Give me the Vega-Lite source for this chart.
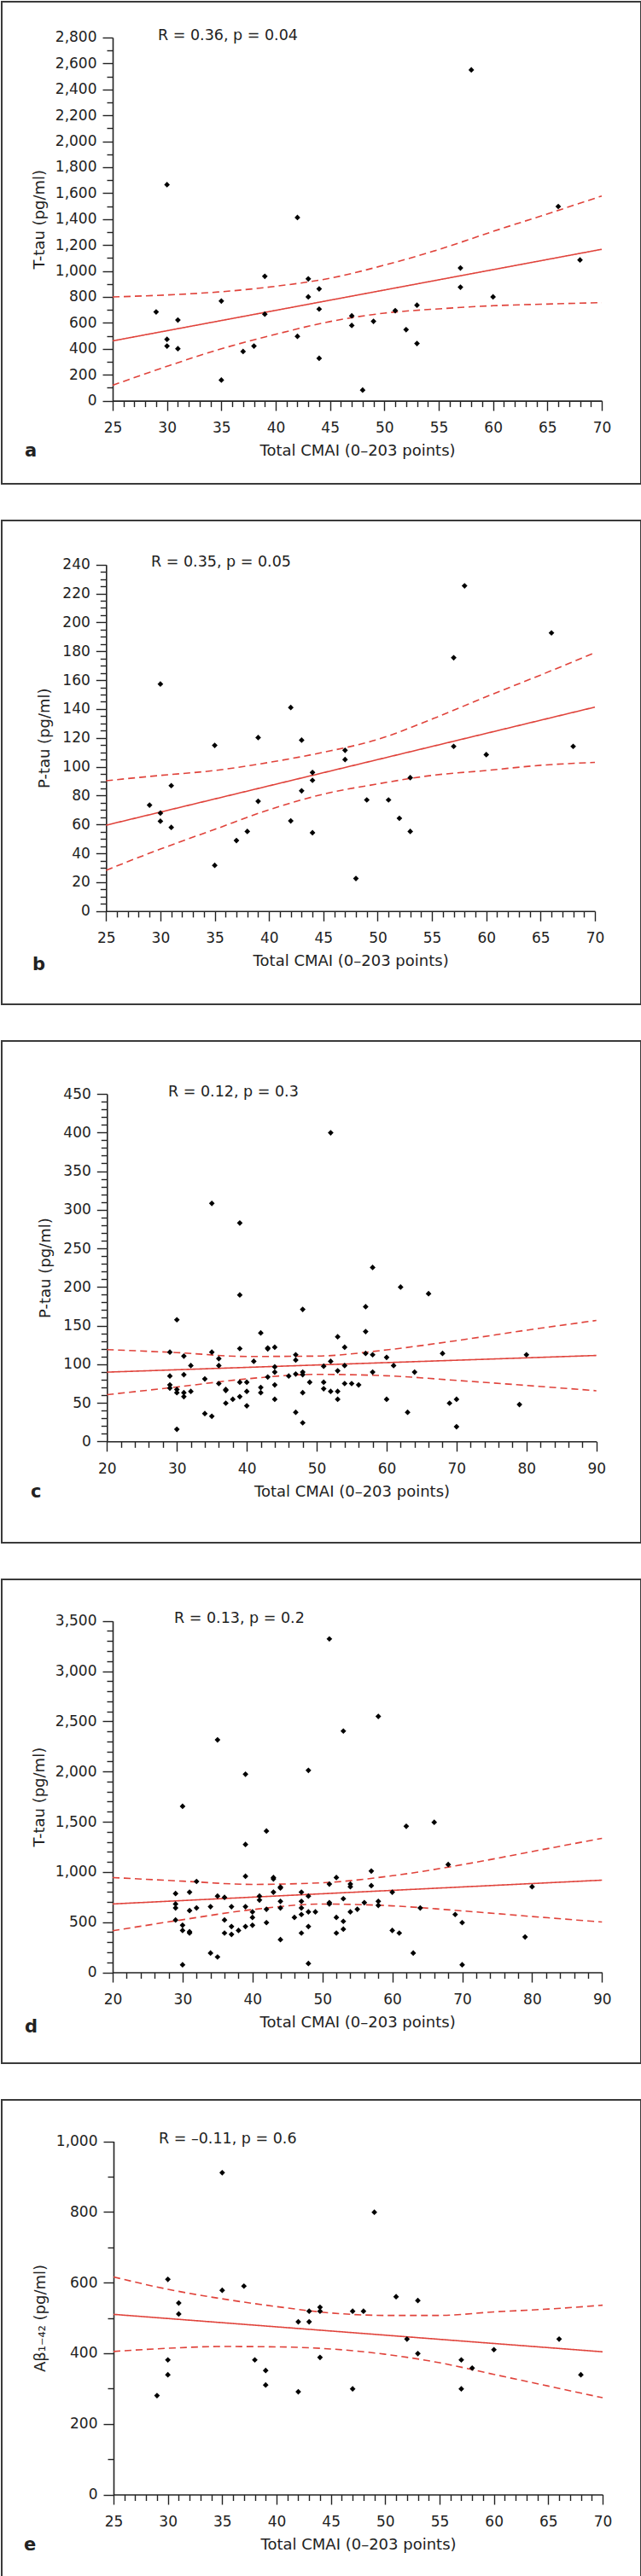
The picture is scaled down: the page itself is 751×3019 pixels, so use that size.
{
  "$schema": "https://vega.github.io/schema/vega-lite/v6.json",
  "padding": {"left": 1, "top": 1, "right": 0, "bottom": 0},
  "spacing": 41,
  "config": {
    "font": "DejaVu Sans",
    "view": {"stroke": "#3a3a3a", "strokeWidth": 2},
    "axis": {"grid": false, "domainColor": "#222", "domainWidth": 1.6, "tickColor": "#222", "tickWidth": 1.4, "labelFont": "DejaVu Sans", "labelFontSize": 17, "labelColor": "#222", "titleFont": "DejaVu Sans", "titleFontSize": 18, "titleFontWeight": "normal", "titleColor": "#222", "labelOverlap": false, "labelFlush": false, "labelBound": false},
    "axisX": {"labelPadding": 12.5, "titlePadding": 10},
    "axisY": {"labelPadding": 7},
    "title": {"font": "DejaVu Sans", "color": "#222", "fontWeight": "normal", "fontSize": 17.5, "anchor": "start", "baseline": "alphabetic"}
  },
  "datasets": {
    "a_pts": [{"x":29,"y":684},{"x":30,"y":1665},{"x":30,"y":473},{"x":30,"y":421},{"x":31,"y":622},{"x":31,"y":401},{"x":35,"y":768},{"x":35,"y":159},{"x":37,"y":379},{"x":38,"y":421},{"x":39,"y":959},{"x":39,"y":667},{"x":42,"y":1412},{"x":42,"y":496},{"x":43,"y":939},{"x":43,"y":800},{"x":44,"y":862},{"x":44,"y":706},{"x":44,"y":327},{"x":47,"y":654},{"x":47,"y":580},{"x":48,"y":82},{"x":49,"y":612},{"x":51,"y":694},{"x":52,"y":548},{"x":53,"y":736},{"x":53,"y":441},{"x":57,"y":1023},{"x":57,"y":875},{"x":58,"y":2550},{"x":60,"y":800},{"x":66,"y":1497},{"x":68,"y":1085}],
    "a_lines": [{"line":"fit","x":25,"y":461},{"line":"fit","x":70,"y":1167},
      {"line":"upper","x":25,"y":800},{"line":"upper","x":30,"y":815},{"line":"upper","x":35,"y":840},{"line":"upper","x":40,"y":882},{"line":"upper","x":45,"y":944},{"line":"upper","x":50,"y":1045},{"line":"upper","x":55,"y":1165},{"line":"upper","x":60,"y":1305},{"line":"upper","x":65,"y":1440},{"line":"upper","x":70,"y":1578},
      {"line":"lower","x":25,"y":119},{"line":"lower","x":30,"y":265},{"line":"lower","x":35,"y":400},{"line":"lower","x":40,"y":512},{"line":"lower","x":45,"y":610},{"line":"lower","x":50,"y":675},{"line":"lower","x":55,"y":708},{"line":"lower","x":60,"y":732},{"line":"lower","x":65,"y":745},{"line":"lower","x":70,"y":756}],
    "b_pts": [{"x":29,"y":73.4},{"x":30,"y":157.3},{"x":30,"y":67.9},{"x":30,"y":62.3},{"x":31,"y":86.9},{"x":31,"y":58},{"x":35,"y":114.8},{"x":35,"y":31.7},{"x":37,"y":48.9},{"x":38,"y":55.2},{"x":39,"y":120.2},{"x":39,"y":76.1},{"x":42,"y":141},{"x":42,"y":62.5},{"x":43,"y":118.4},{"x":43,"y":83.3},{"x":44,"y":96},{"x":44,"y":90.6},{"x":44,"y":54.3},{"x":47,"y":111.4},{"x":47,"y":105},{"x":48,"y":22.6},{"x":49,"y":77},{"x":51,"y":77},{"x":52,"y":64.3},{"x":53,"y":92.4},{"x":53,"y":55.2},{"x":57,"y":175.5},{"x":57,"y":114.1},{"x":58,"y":225.3},{"x":60,"y":108.4},{"x":66,"y":192.7},{"x":68,"y":114.1}],
    "b_lines": [{"line":"fit","x":25,"y":59.5},{"line":"fit","x":70,"y":141.3},
      {"line":"upper","x":25,"y":90.3},{"line":"upper","x":30,"y":94},{"line":"upper","x":35,"y":97.4},{"line":"upper","x":40,"y":103},{"line":"upper","x":45,"y":110},{"line":"upper","x":50,"y":118.9},{"line":"upper","x":55,"y":133},{"line":"upper","x":60,"y":148.5},{"line":"upper","x":65,"y":163.5},{"line":"upper","x":70,"y":179},
      {"line":"lower","x":25,"y":28.3},{"line":"lower","x":30,"y":43},{"line":"lower","x":35,"y":56.6},{"line":"lower","x":40,"y":70.2},{"line":"lower","x":45,"y":81},{"line":"lower","x":50,"y":88.1},{"line":"lower","x":55,"y":94},{"line":"lower","x":60,"y":97.4},{"line":"lower","x":65,"y":101},{"line":"lower","x":70,"y":103}],
    "c_pts": [{"x":29,"y":115.6},{"x":29,"y":84.7},{"x":29,"y":73.2},{"x":29,"y":69},{"x":30,"y":157.5},{"x":30,"y":67.3},{"x":30,"y":63.1},{"x":30,"y":15.7},{"x":31,"y":110.5},{"x":31,"y":86.4},{"x":31,"y":63.1},{"x":31,"y":58},{"x":32,"y":98.2},{"x":32,"y":64.8},{"x":34,"y":80.9},{"x":34,"y":36},{"x":35,"y":308.2},{"x":35,"y":115.6},{"x":35,"y":32.6},{"x":36,"y":107.1},{"x":36,"y":98.2},{"x":36,"y":74.9},{"x":37,"y":67.3},{"x":37,"y":66},{"x":37,"y":49.5},{"x":38,"y":54.6},{"x":39,"y":282.8},{"x":39,"y":189.6},{"x":39,"y":120.2},{"x":39,"y":76.6},{"x":39,"y":58},{"x":40,"y":76.6},{"x":40,"y":64.8},{"x":40,"y":46.1},{"x":41,"y":103.7},{"x":42,"y":140.5},{"x":42,"y":69.8},{"x":42,"y":63.1},{"x":43,"y":119.8},{"x":43,"y":121},{"x":43,"y":83.4},{"x":44,"y":121.9},{"x":44,"y":96.5},{"x":44,"y":89.7},{"x":44,"y":73.2},{"x":44,"y":54.6},{"x":46,"y":84.7},{"x":47,"y":112.2},{"x":47,"y":105.4},{"x":47,"y":87.2},{"x":47,"y":37.7},{"x":48,"y":171},{"x":48,"y":89.7},{"x":48,"y":86.4},{"x":48,"y":63.1},{"x":48,"y":24.1},{"x":49,"y":76.6},{"x":51,"y":97.4},{"x":51,"y":76.6},{"x":51,"y":68.2},{"x":52,"y":399.6},{"x":52,"y":103.7},{"x":52,"y":64.8},{"x":53,"y":135.5},{"x":53,"y":91.4},{"x":53,"y":64.8},{"x":53,"y":54.6},{"x":54,"y":121.9},{"x":54,"y":98.2},{"x":54,"y":74.9},{"x":55,"y":74.9},{"x":56,"y":73.2},{"x":57,"y":174.4},{"x":57,"y":142.2},{"x":57,"y":113.9},{"x":58,"y":225.2},{"x":58,"y":112.2},{"x":58,"y":89.7},{"x":60,"y":108.8},{"x":60,"y":54.6},{"x":61,"y":98.2},{"x":62,"y":199.8},{"x":63,"y":37.7},{"x":64,"y":89.7},{"x":66,"y":191.3},{"x":68,"y":113.9},{"x":69,"y":49.5},{"x":70,"y":54.6},{"x":70,"y":19},{"x":79,"y":47.8},{"x":80,"y":112.2}],
    "c_lines": [{"line":"fit","x":20,"y":89.7},{"line":"fit","x":90,"y":111.3},
      {"line":"upper","x":20,"y":118.9},{"line":"upper","x":30,"y":115},{"line":"upper","x":40,"y":110},{"line":"upper","x":50,"y":110.5},{"line":"upper","x":60,"y":118.5},{"line":"upper","x":70,"y":130.5},{"line":"upper","x":80,"y":144},{"line":"upper","x":90,"y":156.6},
      {"line":"lower","x":20,"y":60.5},{"line":"lower","x":30,"y":70.5},{"line":"lower","x":40,"y":81},{"line":"lower","x":50,"y":86.8},{"line":"lower","x":60,"y":85},{"line":"lower","x":70,"y":79},{"line":"lower","x":80,"y":72.5},{"line":"lower","x":90,"y":65.6}],
    "d_pts": [{"x":29,"y":785},{"x":29,"y":681},{"x":29,"y":641},{"x":29,"y":521},{"x":30,"y":1654},{"x":30,"y":469},{"x":30,"y":417},{"x":30,"y":75},{"x":31,"y":798},{"x":31,"y":615},{"x":31,"y":404},{"x":31,"y":391},{"x":32,"y":905},{"x":32,"y":641},{"x":34,"y":654},{"x":34,"y":192},{"x":35,"y":2315},{"x":35,"y":759},{"x":35,"y":153},{"x":36,"y":746},{"x":36,"y":521},{"x":36,"y":391},{"x":37,"y":654},{"x":37,"y":456},{"x":37,"y":378},{"x":38,"y":417},{"x":39,"y":1973},{"x":39,"y":1273},{"x":39,"y":957},{"x":39,"y":654},{"x":39,"y":456},{"x":40,"y":602},{"x":40,"y":547},{"x":40,"y":469},{"x":41,"y":759},{"x":41,"y":720},{"x":42,"y":1407},{"x":42,"y":628},{"x":42,"y":495},{"x":43,"y":944},{"x":43,"y":930},{"x":43,"y":798},{"x":44,"y":850},{"x":44,"y":840},{"x":44,"y":707},{"x":44,"y":641},{"x":44,"y":326},{"x":46,"y":547},{"x":47,"y":798},{"x":47,"y":707},{"x":47,"y":641},{"x":47,"y":576},{"x":47,"y":391},{"x":48,"y":2012},{"x":48,"y":759},{"x":48,"y":602},{"x":48,"y":456},{"x":48,"y":88},{"x":49,"y":602},{"x":51,"y":3321},{"x":51,"y":879},{"x":51,"y":694},{"x":51,"y":681},{"x":52,"y":944},{"x":52,"y":547},{"x":52,"y":391},{"x":53,"y":2403},{"x":53,"y":733},{"x":53,"y":508},{"x":53,"y":430},{"x":54,"y":879},{"x":54,"y":853},{"x":54,"y":602},{"x":55,"y":628},{"x":56,"y":694},{"x":57,"y":1009},{"x":57,"y":863},{"x":58,"y":2549},{"x":58,"y":707},{"x":58,"y":667},{"x":60,"y":798},{"x":60,"y":417},{"x":61,"y":391},{"x":62,"y":1455},{"x":63,"y":192},{"x":64,"y":641},{"x":66,"y":1494},{"x":68,"y":1074},{"x":69,"y":576},{"x":70,"y":495},{"x":70,"y":75},{"x":79,"y":352},{"x":80,"y":853}],
    "d_lines": [{"line":"fit","x":20,"y":681},{"line":"fit","x":90,"y":918},
      {"line":"upper","x":20,"y":944},{"line":"upper","x":30,"y":908},{"line":"upper","x":40,"y":876},{"line":"upper","x":50,"y":892},{"line":"upper","x":60,"y":962},{"line":"upper","x":70,"y":1072},{"line":"upper","x":80,"y":1203},{"line":"upper","x":90,"y":1335},
      {"line":"lower","x":20,"y":414},{"line":"lower","x":30,"y":524},{"line":"lower","x":40,"y":625},{"line":"lower","x":50,"y":680},{"line":"lower","x":60,"y":662},{"line":"lower","x":70,"y":612},{"line":"lower","x":80,"y":556},{"line":"lower","x":90,"y":501}],
    "e_pts": [{"x":29,"y":280},{"x":30,"y":609},{"x":30,"y":381},{"x":30,"y":339},{"x":31,"y":542},{"x":31,"y":511},{"x":35,"y":911},{"x":35,"y":578},{"x":37,"y":590},{"x":38,"y":381},{"x":39,"y":351},{"x":39,"y":310},{"x":42,"y":489},{"x":42,"y":291},{"x":43,"y":519},{"x":43,"y":489},{"x":44,"y":530},{"x":44,"y":519},{"x":44,"y":388},{"x":47,"y":519},{"x":47,"y":299},{"x":48,"y":519},{"x":49,"y":799},{"x":51,"y":560},{"x":52,"y":440},{"x":53,"y":549},{"x":53,"y":399},{"x":57,"y":381},{"x":57,"y":299},{"x":58,"y":358},{"x":60,"y":410},{"x":66,"y":440},{"x":68,"y":339}],
    "e_lines": [{"line":"fit","x":25,"y":510},{"line":"fit","x":70,"y":404},
      {"line":"upper","x":25,"y":616},{"line":"upper","x":30,"y":581},{"line":"upper","x":35,"y":554},{"line":"upper","x":40,"y":532},{"line":"upper","x":45,"y":514},{"line":"upper","x":50,"y":507},{"line":"upper","x":55,"y":507},{"line":"upper","x":60,"y":517},{"line":"upper","x":65,"y":525},{"line":"upper","x":70,"y":536},
      {"line":"lower","x":25,"y":405},{"line":"lower","x":30,"y":414},{"line":"lower","x":35,"y":419},{"line":"lower","x":40,"y":418},{"line":"lower","x":45,"y":412},{"line":"lower","x":50,"y":397},{"line":"lower","x":55,"y":373},{"line":"lower","x":60,"y":340},{"line":"lower","x":65,"y":307},{"line":"lower","x":70,"y":274}]
  },
  "vconcat": [
    {
      "title": {"text": "a", "orient": "bottom", "anchor": "start", "dx": 28, "offset": -33, "fontWeight": "bold", "fontSize": 21, "baseline": "alphabetic"},
      "vconcat": [{
        "width": 749, "height": 565,
        "title": {"text": "R = 0.36, p = 0.04", "anchor": "start", "dx": 183, "offset": -48},
        "encoding": {
          "x": {"field": "x", "type": "quantitative", "scale": {"domain": [25, 70], "range": [130, 703], "nice": false, "zero": false},
            "axis": {"title": "Total CMAI (0–203 points)", "orient": "bottom", "offset": -97.4, "values": [25,26,27,28,29,30,31,32,33,34,35,36,37,38,39,40,41,42,43,44,45,46,47,48,49,50,51,52,53,54,55,56,57,58,59,60,61,62,63,64,65,66,67,68,69,70], "labelExpr": "datum.value % 5 === 0 ? datum.label : ''", "tickSize": {"condition": {"test": "datum.value % 5 === 0", "value": 11.5}, "value": 7}}},
          "y": {"field": "y", "type": "quantitative", "scale": {"domain": [0, 2800], "range": [467.6, 41.9], "nice": false, "zero": false},
            "axis": {"title": "T-tau (pg/ml)", "orient": "left", "offset": -130, "titlePadding": 9, "format": ",d", "values": [0,100,200,300,400,500,600,700,800,900,1000,1100,1200,1300,1400,1500,1600,1700,1800,1900,2000,2100,2200,2300,2400,2500,2600,2700,2800], "labelExpr": "datum.value % 200 === 0 ? datum.label : ''", "tickSize": {"condition": {"test": "datum.value % 200 === 0", "value": 12}, "value": 7}}}
        },
        "layer": [
          {"data": {"name": "a_lines"}, "mark": {"type": "line", "color": "#e0433b", "strokeWidth": 1.6, "interpolate": "monotone"},
           "encoding": {"detail": {"field": "line", "type": "nominal"}, "strokeDash": {"field": "line", "type": "nominal", "scale": {"domain": ["fit", "lower", "upper"], "range": [[1, 0], [8, 5], [8, 5]]}, "legend": null}}},
          {"data": {"name": "a_pts"}, "mark": {"type": "point", "shape": "diamond", "filled": true, "color": "#000", "size": 45, "opacity": 1}}
        ]
      }]
    },
    {
      "title": {"text": "b", "orient": "bottom", "anchor": "start", "dx": 37, "offset": -40.7, "fontWeight": "bold", "fontSize": 21, "baseline": "alphabetic"},
      "vconcat": [{
        "width": 749, "height": 567,
        "title": {"text": "R = 0.35, p = 0.05", "anchor": "start", "dx": 175, "offset": -57.9},
        "encoding": {
          "x": {"field": "x", "type": "quantitative", "scale": {"domain": [25, 70], "range": [122.3, 695], "nice": false, "zero": false},
            "axis": {"title": "Total CMAI (0–203 points)", "orient": "bottom", "offset": -109.2, "values": [25,26,27,28,29,30,31,32,33,34,35,36,37,38,39,40,41,42,43,44,45,46,47,48,49,50,51,52,53,54,55,56,57,58,59,60,61,62,63,64,65,66,67,68,69,70], "labelExpr": "datum.value % 5 === 0 ? datum.label : ''", "tickSize": {"condition": {"test": "datum.value % 5 === 0", "value": 11.5}, "value": 7}}},
          "y": {"field": "y", "type": "quantitative", "scale": {"domain": [0, 240], "range": [457.8, 51.7], "nice": false, "zero": false},
            "axis": {"title": "P-tau (pg/ml)", "orient": "left", "offset": -122.3, "titlePadding": 11, "format": ",d", "values": [0,5,10,15,20,25,30,35,40,45,50,55,60,65,70,75,80,85,90,95,100,105,110,115,120,125,130,135,140,145,150,155,160,165,170,175,180,185,190,195,200,205,210,215,220,225,230,235,240], "labelExpr": "datum.value % 20 === 0 ? datum.label : ''", "tickSize": {"condition": {"test": "datum.value % 20 === 0", "value": 12}, "value": 7}}}
        },
        "layer": [
          {"data": {"name": "b_lines"}, "mark": {"type": "line", "color": "#e0433b", "strokeWidth": 1.6, "interpolate": "monotone"},
           "encoding": {"detail": {"field": "line", "type": "nominal"}, "strokeDash": {"field": "line", "type": "nominal", "scale": {"domain": ["fit", "lower", "upper"], "range": [[1, 0], [8, 5], [8, 5]]}, "legend": null}}},
          {"data": {"name": "b_pts"}, "mark": {"type": "point", "shape": "diamond", "filled": true, "color": "#000", "size": 45, "opacity": 1}}
        ]
      }]
    },
    {
      "title": {"text": "c", "orient": "bottom", "anchor": "start", "dx": 35, "offset": -54, "fontWeight": "bold", "fontSize": 21, "baseline": "alphabetic"},
      "vconcat": [{
        "width": 749, "height": 588,
        "title": {"text": "R = 0.12, p = 0.3", "anchor": "start", "dx": 195, "offset": -68.2},
        "encoding": {
          "x": {"field": "x", "type": "quantitative", "scale": {"domain": [20, 90], "range": [123.3, 696.7], "nice": false, "zero": false},
            "axis": {"title": "Total CMAI (0–203 points)", "orient": "bottom", "offset": -118.7, "values": [20,22,24,26,28,30,32,34,36,38,40,42,44,46,48,50,52,54,56,58,60,62,64,66,68,70,72,74,76,78,80,82,84,86,88,90], "labelExpr": "datum.value % 10 === 0 ? datum.label : ''", "tickSize": {"condition": {"test": "datum.value % 10 === 0", "value": 11.5}, "value": 7}}},
          "y": {"field": "y", "type": "quantitative", "scale": {"domain": [0, 450], "range": [469.3, 62], "nice": false, "zero": false},
            "axis": {"title": "P-tau (pg/ml)", "orient": "left", "offset": -123.3, "titlePadding": 11, "format": ",d", "values": [0,10,20,30,40,50,60,70,80,90,100,110,120,130,140,150,160,170,180,190,200,210,220,230,240,250,260,270,280,290,300,310,320,330,340,350,360,370,380,390,400,410,420,430,440,450], "labelExpr": "datum.value % 50 === 0 ? datum.label : ''", "tickSize": {"condition": {"test": "datum.value % 50 === 0", "value": 12}, "value": 7}}}
        },
        "layer": [
          {"data": {"name": "c_lines"}, "mark": {"type": "line", "color": "#e0433b", "strokeWidth": 1.6, "interpolate": "monotone"},
           "encoding": {"detail": {"field": "line", "type": "nominal"}, "strokeDash": {"field": "line", "type": "nominal", "scale": {"domain": ["fit", "lower", "upper"], "range": [[1, 0], [8, 5], [8, 5]]}, "legend": null}}},
          {"data": {"name": "c_pts"}, "mark": {"type": "point", "shape": "diamond", "filled": true, "color": "#000", "size": 45, "opacity": 1}}
        ]
      }]
    },
    {
      "title": {"text": "d", "orient": "bottom", "anchor": "start", "dx": 28, "offset": -37, "fontWeight": "bold", "fontSize": 21, "baseline": "alphabetic"},
      "vconcat": [{
        "width": 749, "height": 567,
        "title": {"text": "R = 0.13, p = 0.2", "anchor": "start", "dx": 202, "offset": -54.9},
        "encoding": {
          "x": {"field": "x", "type": "quantitative", "scale": {"domain": [20, 90], "range": [130, 703.3], "nice": false, "zero": false},
            "axis": {"title": "Total CMAI (0–203 points)", "orient": "bottom", "offset": -106.5, "values": [20,22,24,26,28,30,32,34,36,38,40,42,44,46,48,50,52,54,56,58,60,62,64,66,68,70,72,74,76,78,80,82,84,86,88,90], "labelExpr": "datum.value % 10 === 0 ? datum.label : ''", "tickSize": {"condition": {"test": "datum.value % 10 === 0", "value": 11.5}, "value": 7}}},
          "y": {"field": "y", "type": "quantitative", "scale": {"domain": [0, 3500], "range": [460.5, 48.7], "nice": false, "zero": false},
            "axis": {"title": "T-tau (pg/ml)", "orient": "left", "offset": -130, "titlePadding": 9, "format": ",d", "values": [0,100,200,300,400,500,600,700,800,900,1000,1100,1200,1300,1400,1500,1600,1700,1800,1900,2000,2100,2200,2300,2400,2500,2600,2700,2800,2900,3000,3100,3200,3300,3400,3500], "labelExpr": "datum.value % 500 === 0 ? datum.label : ''", "tickSize": {"condition": {"test": "datum.value % 500 === 0", "value": 12}, "value": 7}}}
        },
        "layer": [
          {"data": {"name": "d_lines"}, "mark": {"type": "line", "color": "#e0433b", "strokeWidth": 1.6, "interpolate": "monotone"},
           "encoding": {"detail": {"field": "line", "type": "nominal"}, "strokeDash": {"field": "line", "type": "nominal", "scale": {"domain": ["fit", "lower", "upper"], "range": [[1, 0], [8, 5], [8, 5]]}, "legend": null}}},
          {"data": {"name": "d_pts"}, "mark": {"type": "point", "shape": "diamond", "filled": true, "color": "#000", "size": 45, "opacity": 1}}
        ]
      }]
    },
    {
      "title": {"text": "e", "orient": "bottom", "anchor": "start", "dx": 27, "offset": -39, "fontWeight": "bold", "fontSize": 21, "baseline": "alphabetic"},
      "vconcat": [{
        "width": 749, "height": 566,
        "title": {"text": "R = –0.11, p = 0.6", "anchor": "start", "dx": 184, "offset": -54.7},
        "encoding": {
          "x": {"field": "x", "type": "quantitative", "scale": {"domain": [25, 70], "range": [131, 704], "nice": false, "zero": false},
            "axis": {"title": "Total CMAI (0–203 points)", "orient": "bottom", "offset": -103.5, "values": [25,26,27,28,29,30,31,32,33,34,35,36,37,38,39,40,41,42,43,44,45,46,47,48,49,50,51,52,53,54,55,56,57,58,59,60,61,62,63,64,65,66,67,68,69,70], "labelExpr": "datum.value % 5 === 0 ? datum.label : ''", "tickSize": {"condition": {"test": "datum.value % 5 === 0", "value": 11.5}, "value": 7}}},
          "y": {"field": "y", "type": "quantitative", "scale": {"domain": [0, 1000], "range": [462.5, 48.5], "nice": false, "zero": false},
            "axis": {"title": "Aβ₁₋₄₂ (pg/ml)", "orient": "left", "offset": -131, "titlePadding": 9, "format": ",d", "values": [0,100,200,300,400,500,600,700,800,900,1000], "labelExpr": "datum.value % 200 === 0 ? datum.label : ''", "tickSize": {"condition": {"test": "datum.value % 200 === 0", "value": 12}, "value": 7}}}
        },
        "layer": [
          {"data": {"name": "e_lines"}, "mark": {"type": "line", "color": "#e0433b", "strokeWidth": 1.6, "interpolate": "monotone"},
           "encoding": {"detail": {"field": "line", "type": "nominal"}, "strokeDash": {"field": "line", "type": "nominal", "scale": {"domain": ["fit", "lower", "upper"], "range": [[1, 0], [8, 5], [8, 5]]}, "legend": null}}},
          {"data": {"name": "e_pts"}, "mark": {"type": "point", "shape": "diamond", "filled": true, "color": "#000", "size": 45, "opacity": 1}}
        ]
      }]
    }
  ]
}
